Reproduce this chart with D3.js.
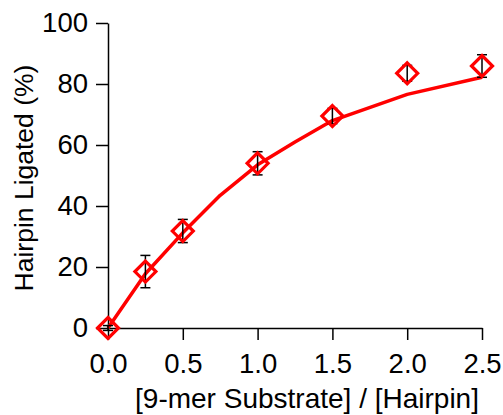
<!DOCTYPE html>
<html>
<head>
<meta charset="utf-8">
<script src="https://cdn.jsdelivr.net/npm/d3@7"></script>
<style>
body { margin: 0; background: #fff; }
text { font-family: "Liberation Sans", Arial, sans-serif; }
</style>
</head>
<body>
<script>
// measured points
const ratio = [0, 0.25, 0.5, 1.0, 1.5, 2.0, 2.5];
const ligated = [0, 18.5, 31.8, 54.0, 69.5, 83.5, 85.9];
const errs = [0.8, 5.3, 3.8, 3.8, 2.5, 2.6, 3.7];

// fitted curve
const fitX = [0, 0.25, 0.5, 0.75, 1.0, 1.25, 1.5, 2.0, 2.5];
const fitY = [0, 17.8, 31.2, 43.5, 53.5, 61, 68, 76.6, 82.2];

const xTicks = [0, 0.5, 1.0, 1.5, 2.0, 2.5];
const yTicks = [0, 20, 40, 60, 80, 100];

const W = 503, H = 415;
const margin = { top: 23, right: 21, bottom: 87, left: 108 };

const x = d3.scaleLinear().domain([0, 2.5]).range([margin.left, W - margin.right]);
const y = d3.scaleLinear().domain([0, 100]).range([H - margin.bottom, margin.top]);

const svg = d3.select("body").append("svg")
  .attr("width", W)
  .attr("height", H);

const xAxis = svg.append("g")
  .attr("transform", "translate(0," + y(0) + ")")
  .call(d3.axisBottom(x).tickValues(xTicks).tickFormat(d3.format(".1f"))
    .tickSizeInner(12).tickSizeOuter(0).tickPadding(13));

const yAxis = svg.append("g")
  .attr("transform", "translate(" + x(0) + ",0)")
  .call(d3.axisLeft(y).tickValues(yTicks).tickSizeInner(12).tickSizeOuter(0).tickPadding(8));

svg.selectAll(".domain, .tick line")
  .attr("stroke", "#000")
  .attr("stroke-width", 1.5);
svg.selectAll(".tick text")
  .attr("font-size", 27.5)
  .attr("font-family", "Liberation Sans, Arial, sans-serif")
  .attr("fill", "#000");

svg.append("text")
  .attr("x", 307)
  .attr("y", 408)
  .attr("text-anchor", "middle")
  .attr("font-size", 28)
  .text("[9-mer Substrate] / [Hairpin]");

svg.append("text")
  .attr("transform", "translate(33,178) rotate(-90)")
  .attr("text-anchor", "middle")
  .attr("font-size", 26.5)
  .text("Hairpin Ligated (%)");

// fit line
const line = d3.line()
  .x((d, i) => x(fitX[i]))
  .y(d => y(d));

svg.append("path")
  .datum(fitY)
  .attr("fill", "none")
  .attr("stroke", "#ff0000")
  .attr("stroke-width", 3.5)
  .attr("stroke-linejoin", "round")
  .attr("d", line);

// error bars
const eb = svg.append("g").attr("stroke", "#000").attr("stroke-width", 1.5);
ratio.forEach((r, i) => {
  const cx = x(r), top = y(ligated[i] + errs[i]), bot = y(ligated[i] - errs[i]);
  eb.append("line").attr("x1", cx).attr("x2", cx).attr("y1", top).attr("y2", bot);
  eb.append("line").attr("x1", cx - 5).attr("x2", cx + 5).attr("y1", top).attr("y2", top);
  eb.append("line").attr("x1", cx - 5).attr("x2", cx + 5).attr("y1", bot).attr("y2", bot);
});

// diamond markers
const r = 10.5;
svg.append("g")
  .selectAll("path")
  .data(ratio)
  .enter()
  .append("path")
  .attr("fill", "none")
  .attr("stroke", "#ff0000")
  .attr("stroke-width", 3.2)
  .attr("d", (d, i) => {
    const cx = x(d), cy = y(ligated[i]);
    return "M" + cx + "," + (cy - r) + "L" + (cx + r) + "," + cy +
      "L" + cx + "," + (cy + r) + "L" + (cx - r) + "," + cy + "Z";
  });
</script>
</body>
</html>
